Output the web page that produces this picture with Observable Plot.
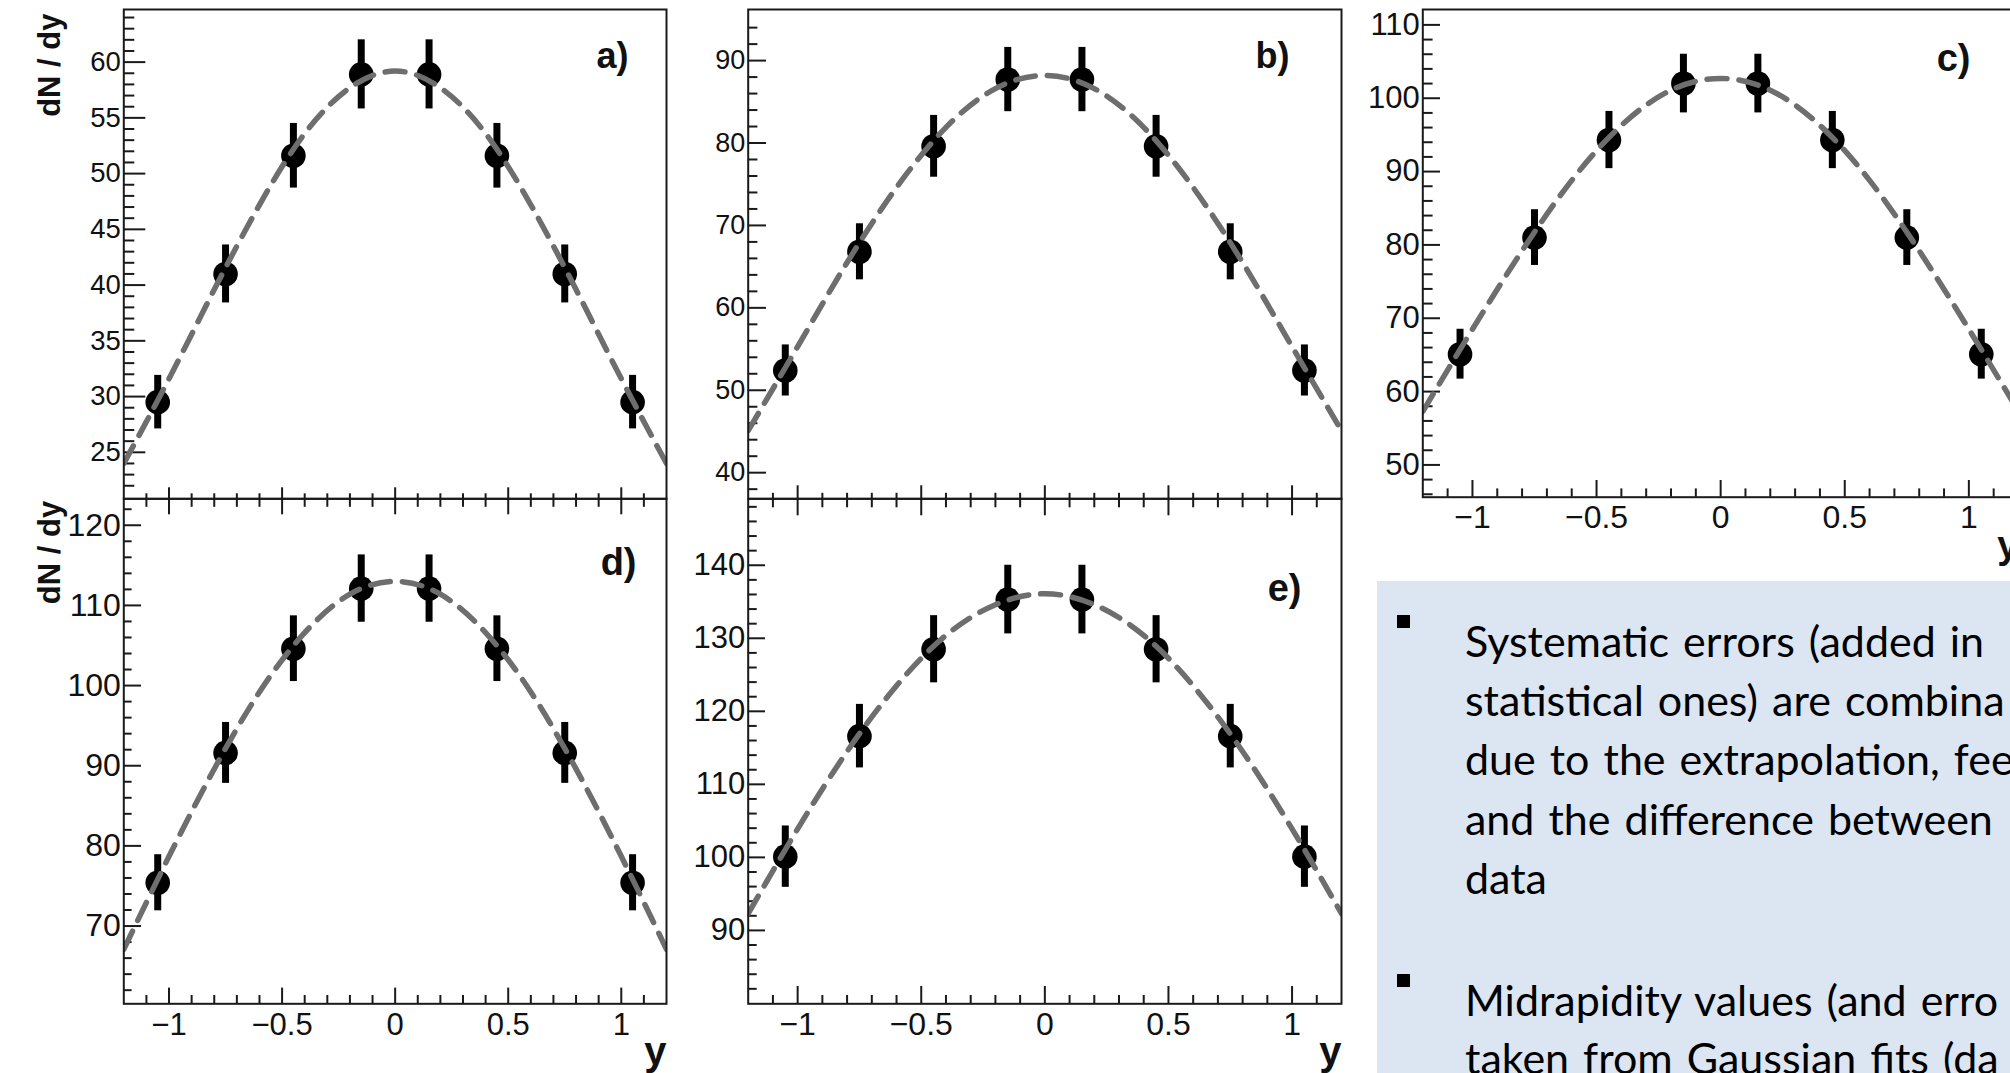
<!DOCTYPE html>
<html><head><meta charset="utf-8">
<script src="https://cdn.jsdelivr.net/npm/d3@7"></script>
<script src="https://cdn.jsdelivr.net/npm/@observablehq/plot@0.6"></script>
<style>
html,body{margin:0;padding:0;width:2010px;height:1073px;overflow:hidden;background:#fff;}
#root{position:relative;width:2010px;height:1073px;overflow:hidden;}
.panel{position:absolute;left:0;top:0;}
#note{position:absolute;left:1377px;top:581px;width:700px;height:520px;background:#dce6f2;font-family:Lato,"Open Sans",sans-serif;color:#000;font-size:43px;}
#note .ln{position:absolute;left:88px;white-space:nowrap;line-height:1;word-spacing:3px;}
#note .bul{position:absolute;left:20px;width:13px;height:13px;background:#000;}
</style></head><body>
<div id="root"></div>
<script>
// ---------- data ----------
const rapidity = [-1.05, -0.75, -0.45, -0.15, 0.15, 0.45, 0.75, 1.05];
const dndyA = [29.5, 41.0, 51.6, 58.9, 58.9, 51.6, 41.0, 29.5];
const errA  = [2.4, 2.6, 2.9, 3.1, 3.1, 2.9, 2.6, 2.4];
const dndyB = [52.4, 66.8, 79.6, 87.7, 87.7, 79.6, 66.8, 52.4];
const errB  = [3.1, 3.4, 3.75, 3.9, 3.9, 3.75, 3.4, 3.1];
const dndyC = [65.1, 81.0, 94.3, 102.0, 102.0, 94.3, 81.0, 65.1];
const errC  = [3.4, 3.8, 3.9, 4.0, 4.0, 3.9, 3.8, 3.4];
const dndyD = [75.4, 91.6, 104.6, 112.1, 112.1, 104.6, 91.6, 75.4];
const errD  = [3.5, 3.8, 4.1, 4.2, 4.2, 4.1, 3.8, 3.5];
const dndyE = [100.1, 116.6, 128.5, 135.3, 135.3, 128.5, 116.6, 100.1];
const errE  = [4.2, 4.35, 4.6, 4.7, 4.7, 4.6, 4.35, 4.2];

// Gaussian fit curves (dashed), read at these rapidities
const fitY = [-1.2, -1.0, -0.8, -0.6, -0.4, -0.2, 0, 0.2, 0.4, 0.6, 0.8, 1.0, 1.2];
const fitA = [24.0, 31.6, 39.6, 47.2, 53.6, 57.7, 59.2, 57.7, 53.6, 47.2, 39.6, 31.6, 24.0];
const fitB = [45.1, 55.3, 65.5, 74.6, 81.9, 86.6, 88.2, 86.6, 81.9, 74.6, 65.5, 55.3, 45.1];
const fitC = [57.3, 68.5, 79.2, 88.8, 96.3, 101.1, 102.7, 101.1, 96.3, 88.8, 79.2, 68.5, 57.3];
const fitD = [67.1, 78.7, 89.6, 99.2, 106.6, 111.4, 113.0, 111.4, 106.6, 99.2, 89.6, 78.7, 67.1];
const fitE = [92.3, 103.9, 114.5, 123.5, 130.4, 134.6, 136.1, 134.6, 130.4, 123.5, 114.5, 103.9, 92.3];

// tick labels
const xTickLabels = [-1, -0.5, 0, 0.5, 1];
const yTicksA = [25, 30, 35, 40, 45, 50, 55, 60];
const yTicksB = [40, 50, 60, 70, 80, 90];
const yTicksC = [50, 60, 70, 80, 90, 100, 110];
const yTicksD = [70, 80, 90, 100, 110, 120];
const yTicksE = [90, 100, 110, 120, 130, 140];
const panelNames = ["a)", "b)", "c)", "d)", "e)"];
const yTitle = "dN / dy";
const xTitle = "y";

// ---------- layout ----------
const H = 1073;
const INK = "#1a1a1a";
const layouts = [
  {name: panelNames[0], vals: dndyA, errs: errA, fit: fitA, ticks: yTicksA, minorStep: 1,
   left: 123.3, right: 666, top: 9, bottom: 498.3, ydom: [20.83, 64.72],
   yMaj: 22, yMin: 11, xMode: "mid", xUp: [11, 5], xDown: [16, 8.5], fs: 27.5,
   lab: {dx: -38, dy: 47, fs: 36}, ytitle: {dx: -74, dy: 4}},
  {name: panelNames[1], vals: dndyB, errs: errB, fit: fitB, ticks: yTicksB, minorStep: 2,
   left: 747.7, right: 1341, top: 9, bottom: 498.3, ydom: [36.83, 96.2],
   yMaj: 18.3, yMin: 9.7, xMode: "mid", xUp: [13, 5.5], xDown: [17, 9], fs: 27,
   lab: {dx: -52, dy: 47, fs: 36}},
  {name: panelNames[2], vals: dndyC, errs: errC, fit: fitC, ticks: yTicksC, minorStep: 2,
   left: 1422.3, right: 2018, top: 9, bottom: 496.7, ydom: [45.6, 112.1],
   yMaj: 17.7, yMin: 10.3, xMode: "bottom", xUp: [16.7, 8.3], fs: 31, xfs: 32, xpad: 7.6,
   lab: {dx: -48, dy: 49, fs: 38}, xt: {dy: 49, fs: 38}},
  {name: panelNames[3], vals: dndyD, errs: errD, fit: fitD, ticks: yTicksD, minorStep: 2,
   left: 123.3, right: 666, top: 498.3, bottom: 1003.3, ydom: [60.3, 123.3],
   yMaj: 17.7, yMin: 8.3, xMode: "bottom", xUp: [15.7, 8.3], fs: 32, xfs: 31, xpad: 8.7,
   lab: {dx: -30, dy: 64, fs: 38}, xt: {dy: 48, fs: 40}, ytitle: {dx: -74, dy: 2}},
  {name: panelNames[4], vals: dndyE, errs: errE, fit: fitE, ticks: yTicksE, minorStep: 2,
   left: 747.7, right: 1341, top: 498.3, bottom: 1003.3, ydom: [79.95, 149.1],
   yMaj: 17.3, yMin: 9, xMode: "bottom", xUp: [17.3, 8.3], fs: 31, xfs: 32, xpad: 8,
   lab: {dx: -40, dy: 90, fs: 38}, xt: {dy: 48, fs: 40}}
];

const xMinor = d3.range(-11, 12).filter(i => i % 5 !== 0).map(i => i / 10);
const fmtX = d => (d < 0 ? "\u2212" : "") + Math.abs(d);

function makePanel(L) {
  const width = L.right + 40;
  const fw = L.right - L.left, fh = L.bottom - L.top;
  const [lo, hi] = L.ydom;
  const major = L.ticks;
  const majorStep = major[1] - major[0];
  const yMinor = d3.range(Math.ceil(lo / L.minorStep) * L.minorStep, hi, L.minorStep)
    .filter(v => Math.abs(v / majorStep - Math.round(v / majorStep)) > 1e-6 && v > lo + 0.25 && v < hi - 0.25);
  const pts = rapidity.map((x, i) => ({x, v: L.vals[i], e: L.errs[i]}));
  const fit = fitY.map((x, i) => ({x, v: L.fit[i]}));
  const tick = {stroke: INK, strokeWidth: 2};
  const marks = [
    Plot.tickY(major, {y: d => d, insetRight: fw - L.yMaj, ...tick}),
    Plot.tickY(yMinor, {y: d => d, insetRight: fw - L.yMin, ...tick}),
  ];
  if (L.xMode === "mid") {
    marks.push(Plot.tickX(xTickLabels, {x: d => d, insetTop: fh - L.xUp[0], insetBottom: -L.xDown[0], ...tick}));
    marks.push(Plot.tickX(xMinor, {x: d => d, insetTop: fh - L.xUp[1], insetBottom: -L.xDown[1], ...tick}));
  } else {
    marks.push(Plot.tickX(xTickLabels, {x: d => d, insetTop: fh - L.xUp[0], ...tick}));
    marks.push(Plot.tickX(xMinor, {x: d => d, insetTop: fh - L.xUp[1], ...tick}));
    // x tick labels
    marks.push(Plot.text(xTickLabels, {x: d => d, text: fmtX, frameAnchor: "bottom", lineAnchor: "top", dy: L.xpad, fontSize: L.xfs, fill: "#111"}));
    marks.push(Plot.text([xTitle], {frameAnchor: "bottom-right", lineAnchor: "middle", dy: L.xt.dy, textAnchor: "end", fontWeight: "bold", fontSize: L.xt.fs, fill: "#111"}));
  }
  marks.push(
    // y tick labels
    Plot.text(major, {y: d => d, text: d => String(d), frameAnchor: "left", textAnchor: "end", lineAnchor: "middle", dx: -3, fontSize: L.fs, fill: "#111"}),
    Plot.ruleX(pts, {x: "x", y1: d => d.v - d.e, y2: d => d.v + d.e, stroke: "#000", strokeWidth: 7}),
    Plot.dot(pts, {x: "x", y: "v", r: 12.3, fill: "#000", stroke: null}),
    Plot.line(fit, {x: "x", y: "v", curve: "natural", stroke: "#6e6e6e", strokeWidth: 5.5, strokeDasharray: "20,12", clip: true}),
    Plot.frame({stroke: INK, strokeWidth: 2}),
    Plot.text([L.name], {frameAnchor: "top-right", lineAnchor: "middle", dx: L.lab.dx, dy: L.lab.dy, textAnchor: "end", fontWeight: "bold", fontSize: L.lab.fs, fill: "#111"})
  );
  if (L.ytitle) {
    marks.push(Plot.text([yTitle], {frameAnchor: "top-left", lineAnchor: "middle", dx: L.ytitle.dx, dy: L.ytitle.dy, rotate: -90, textAnchor: "end", fontWeight: "bold", fontSize: 31, fill: "#111"}));
  }
  const svg = Plot.plot({
    width, height: H,
    marginLeft: L.left, marginRight: width - L.right, marginTop: L.top, marginBottom: H - L.bottom,
    x: {domain: [-1.2, 1.2], axis: null},
    y: {domain: L.ydom, axis: null},
    style: {background: "transparent", overflow: "visible", fontFamily: "'Liberation Sans', Arial, sans-serif", maxWidth: "none", color: "#111"},
    marks
  });
  svg.classList.add("panel");
  return svg;
}

const root = document.getElementById("root");
for (const L of layouts) root.appendChild(makePanel(L));

// text box (slide note)
const noteLines = [
  {t: "Systematic errors (added in", b: 657, bullet: true},
  {t: "statistical ones) are combina", b: 716},
  {t: "due to the extrapolation, fee", b: 775},
  {t: "and the difference between", b: 835},
  {t: "data", b: 894},
  {t: "Midrapidity values (and erro", b: 1016, bullet: true},
  {t: "taken from Gaussian fits (da", b: 1074}
];
const note = document.createElement("div");
note.id = "note";
root.appendChild(note);
const boxTop = 581, noteFs = 43;
for (const l of noteLines) {
  const d = document.createElement("div");
  d.className = "ln";
  d.textContent = l.t;
  d.style.top = (l.b - boxTop - 0.887 * noteFs) + "px";
  note.appendChild(d);
  if (l.bullet) {
    const s = document.createElement("div");
    s.className = "bul";
    s.style.top = (l.b - boxTop - 42) + "px";
    note.appendChild(s);
  }
}
</script>
</body></html>
